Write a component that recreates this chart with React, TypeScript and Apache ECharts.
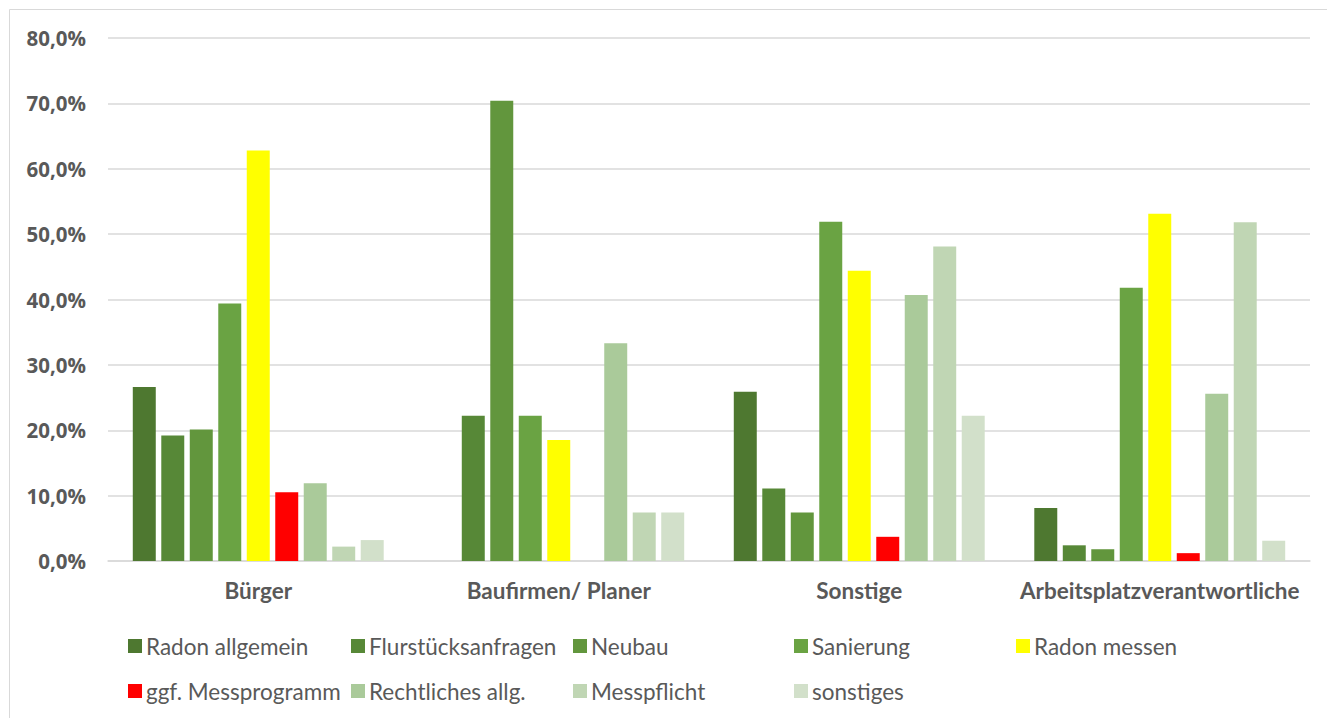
import React, { useEffect, useRef } from "react";
import * as echarts from "echarts";

const categories = ["Bürger", "Baufirmen/ Planer", "Sonstige", "Arbeitsplatzverantwortliche"];

const seriesNames = [
  "Radon allgemein",
  "Flurstücksanfragen",
  "Neubau",
  "Sanierung",
  "Radon messen",
  "ggf. Messprogramm",
  "Rechtliches allg.",
  "Messpflicht",
  "sonstiges",
];

const radonAllgemein = [26.6, 0, 25.9, 8.1];
const flurstuecksanfragen = [19.2, 22.2, 11.1, 2.4];
const neubau = [20.1, 70.4, 7.4, 1.8];
const sanierung = [39.4, 22.2, 51.9, 41.8];
const radonMessen = [62.8, 18.5, 44.4, 53.1];
const messprogramm = [10.5, 0, 3.7, 1.2];
const rechtliches = [11.9, 33.3, 40.7, 25.6];
const messpflicht = [2.2, 7.4, 48.1, 51.8];
const sonstiges = [3.2, 7.4, 22.2, 3.1];

const seriesValues = [
  radonAllgemein,
  flurstuecksanfragen,
  neubau,
  sanierung,
  radonMessen,
  messprogramm,
  rechtliches,
  messpflicht,
  sonstiges,
];

const colors = [
  "#4E7830",
  "#578837",
  "#62963D",
  "#6AA343",
  "#FFFF00",
  "#FF0000",
  "#AACA9A",
  "#C0D6B4",
  "#D2E0CA",
];

const yMin = 0;
const yMax = 80;
const yInterval = 10;

const legendCols = [128, 351, 573, 794, 1016];
const legendRows = [634, 679];

const FONT = "Lato, 'Noto Sans', sans-serif";
const YFONT = "'Open Sans', Lato, sans-serif";
const TEXT = "#595959";

export default function App() {
  const ref = useRef<HTMLDivElement>(null);

  useEffect(() => {
    if (!ref.current) return;
    const chart = echarts.init(ref.current, undefined, { renderer: "svg" });

    const legends = seriesNames.map((name, i) => ({
      data: [name],
      left: legendCols[i % 5],
      top: legendRows[Math.floor(i / 5)],
      padding: 0,
      itemWidth: 14,
      itemHeight: 14,
      itemGap: 0,
      icon: "rect",
      selectedMode: false,
      textStyle: { fontFamily: FONT, fontSize: 22.5, color: TEXT, lineHeight: 24, padding: [0, 0, 0, -1] },
    }));

    chart.setOption({
      animation: false,
      backgroundColor: "#ffffff",
      textStyle: { fontFamily: FONT },
      grid: { left: 108, right: 17, top: 38, bottom: 157, containLabel: false },
      graphic: [
        {
          type: "rect",
          shape: { x: 9.5, y: 9.5, width: 1400, height: 800 },
          style: { fill: "none", stroke: "#d9d9d9", lineWidth: 1 },
          silent: true,
        },
      ],
      legend: legends,
      xAxis: {
        type: "category",
        data: categories,
        axisLine: { show: true, lineStyle: { color: "#d9d9d9", width: 1.5 } },
        axisTick: { show: false },
        axisLabel: {
          fontFamily: FONT,
          fontSize: 22.5,
          fontWeight: "bold",
          color: TEXT,
          margin: 18,
          interval: 0,
        },
      },
      yAxis: {
        type: "value",
        min: yMin,
        max: yMax,
        interval: yInterval,
        axisLine: { show: false },
        axisTick: { show: false },
        splitLine: { lineStyle: { color: "#d9d9d9", width: 1.5 } },
        axisLabel: {
          fontFamily: YFONT,
          fontSize: 20.5,
          fontWeight: "bold",
          color: TEXT,
          margin: 22,
          formatter: (v: number) => v.toFixed(1).replace(".", ",") + "%",
        },
      },
      series: seriesNames.map((name, i) => ({
        name,
        type: "bar",
        data: seriesValues[i],
        barGap: "24%",
        barCategoryGap: "16.5%",
        itemStyle: { color: colors[i] },
      })),
    });

    return () => chart.dispose();
  }, []);

  return (
    <div
      ref={ref}
      style={{ position: "fixed", left: 0, top: 0, width: 1327, height: 718, background: "#fff" }}
    />
  );
}
